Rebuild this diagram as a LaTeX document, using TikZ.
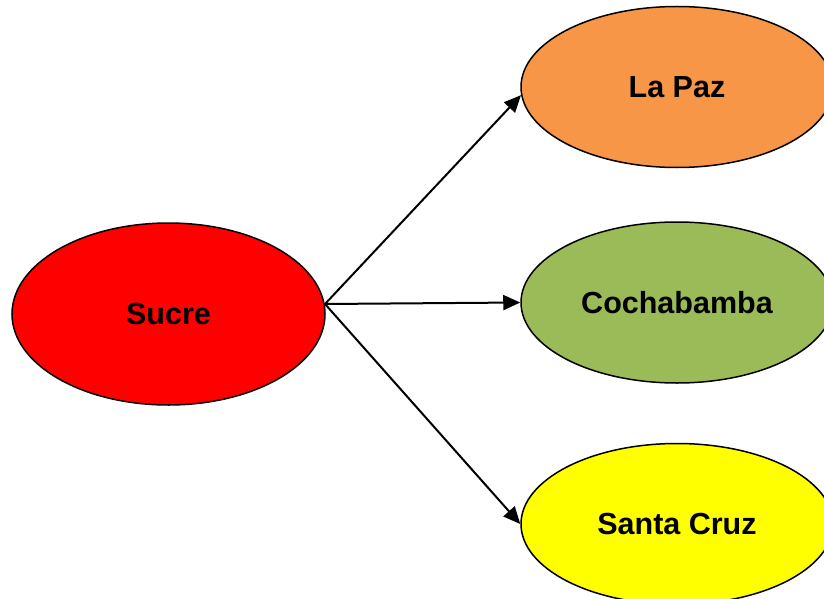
\documentclass[tikz,border=0pt]{standalone}
\usepackage{fontspec}
\setmainfont{Liberation Sans}
\usetikzlibrary{shapes.geometric, arrows.meta, positioning}
\usepackage{xcolor}
\definecolor{sucreRed}{RGB}{255,0,0}
\definecolor{lapazOrange}{RGB}{247,150,70}
\definecolor{cochaGreen}{RGB}{155,187,89}
\definecolor{cruzYellow}{RGB}{255,255,0}

\begin{document}
\begin{tikzpicture}[
    x=1pt, y=1pt,
    city/.style={ellipse, draw, line width=1.5pt, inner sep=0pt, minimum width=312pt, minimum height=161pt, font=\fontsize{30.5}{36}\selectfont\bfseries},
    arrow/.style={-{Triangle[length=17pt, width=15pt]}, line width=2pt}
]
\useasboundingbox (0,0) rectangle (824,-599);

\node[city, fill=sucreRed, minimum width=313pt, minimum height=182pt] (sucre) at (168.5,-314) {Sucre};
\node[city, fill=lapazOrange] (lapaz) at (677,-87) {La Paz};
\node[city, fill=cochaGreen] (cocha) at (677,-302.5) {Cochabamba};
\node[city, fill=cruzYellow] (cruz) at (677,-524) {Santa Cruz};

\coordinate (hub) at (325,-304);

\draw[arrow] (hub) -- (lapaz.183);
\draw[arrow] (hub) -- (cocha.west);
\draw[arrow] (hub) -- (cruz.west);

\end{tikzpicture}
\end{document}
